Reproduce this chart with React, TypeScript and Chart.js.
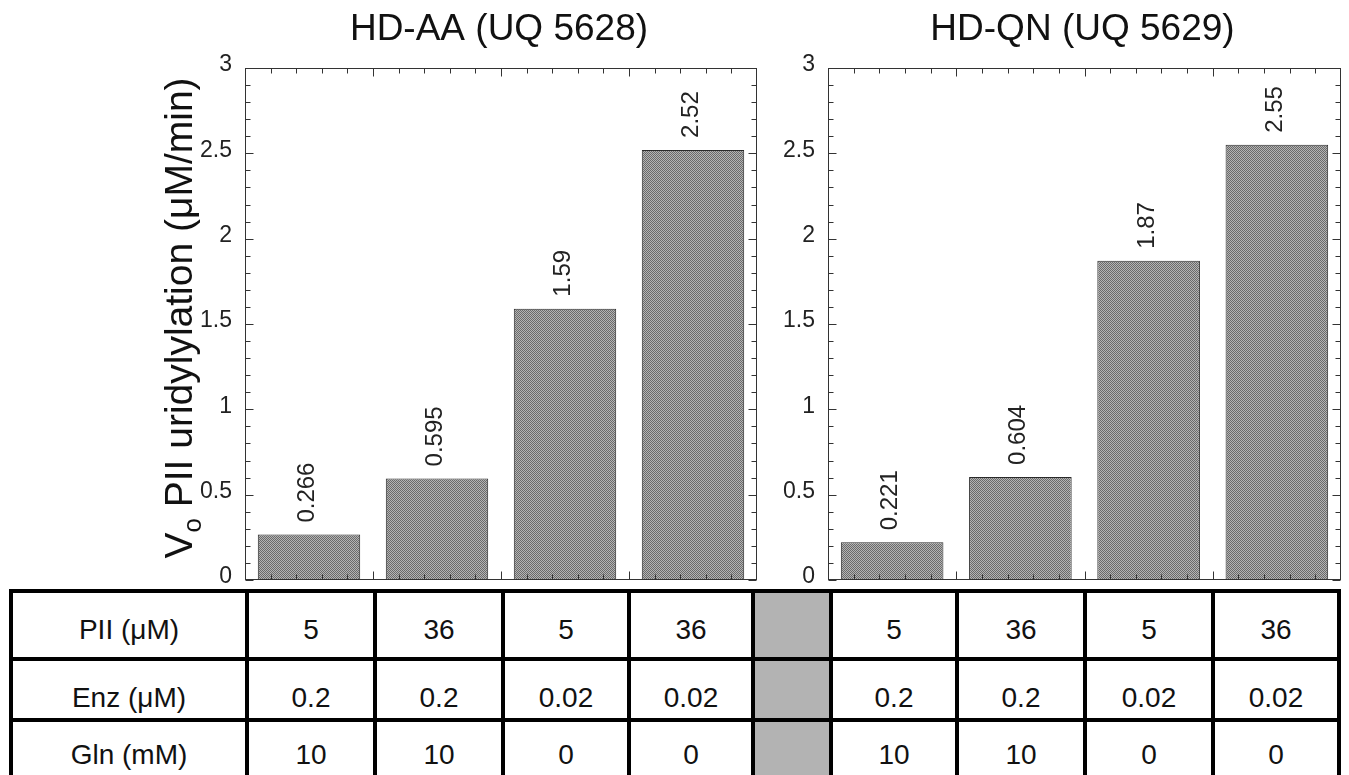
import React, { useEffect, useRef } from 'react';
import { Chart, registerables } from 'chart.js';

Chart.register(...registerables);

const FONT = '"Liberation Sans", Arial, Helvetica, sans-serif';

// ---- data ----
const conditions = ['PII 5 / Enz 0.2 / Gln 10', 'PII 36 / Enz 0.2 / Gln 10', 'PII 5 / Enz 0.02 / Gln 0', 'PII 36 / Enz 0.02 / Gln 0'];
const hdAAValues = [0.266, 0.595, 1.59, 2.52];
const hdQNValues = [0.221, 0.604, 1.87, 2.55];
const yTickValues = [0, 0.5, 1, 1.5, 2, 2.5, 3];
const panelTitles = ['HD-AA (UQ 5628)', 'HD-QN (UQ 5629)'];
const yTitleMain = 'V';
const yTitleSub = 'o';
const yTitleRest = ' PII uridylylation (\u03BCM/min)';
const rowLabels = ['PII (\u03BCM)', 'Enz (\u03BCM)', 'Gln (mM)'];
const piiValues = ['5', '36', '5', '36'];
const enzValues = ['0.2', '0.2', '0.02', '0.02'];
const glnValues = ['10', '10', '0', '0'];

// ---- layout constants ----
const PLOT_TOP = 68;
const PLOT_BOTTOM = 580;
const CANVAS_H = 640;

function makePattern(ctx: CanvasRenderingContext2D): CanvasPattern | string {
  const c = document.createElement('canvas');
  c.width = 2;
  c.height = 2;
  const g = c.getContext('2d');
  if (!g) return '#909090';
  g.fillStyle = '#b4b4b4';
  g.fillRect(0, 0, 2, 2);
  g.fillStyle = '#6a6a6a';
  g.fillRect(0, 0, 1, 1);
  g.fillRect(1, 1, 1, 1);
  return ctx.createPattern(c, 'repeat') || '#909090';
}

function makeDecor(title: string, showYTitle: boolean) {
  return {
    id: 'decor',
    afterDatasetsDraw(chart: any) {
      const { ctx, chartArea: a, scales } = chart;
      const xs = scales.x;
      const ys = scales.y;
      ctx.save();
      const line = (x1: number, y1: number, x2: number, y2: number) => {
        ctx.beginPath();
        ctx.moveTo(x1, y1);
        ctx.lineTo(x2, y2);
        ctx.stroke();
      };
      ctx.strokeStyle = '#333';
      ctx.lineWidth = 1;
      const L = Math.round(a.left) + 0.5;
      const R = Math.round(a.right) - 0.5;
      const T = Math.round(a.top) + 0.5;
      const B = Math.round(a.bottom) - 0.5;
      ctx.strokeRect(L, T, R - L, B - T);
      // y ticks (minor every 0.1, major every 0.5)
      for (let v = 0; v <= 30; v++) {
        const py = Math.round(ys.getPixelForValue(v / 10)) + 0.5;
        const len = v % 5 === 0 ? 8 : 5;
        line(L, py, L + len, py);
        line(R, py, R - len, py);
      }
      // x ticks
      const n = chart.data.labels.length;
      const w = (a.right - a.left) / n;
      for (let i = 0; i < n; i++) {
        const c0 = xs.getPixelForValue(i) - w / 2;
        for (let k = 0; k < 5; k++) {
          if (i === 0 && k === 0) continue;
          const px = Math.round(c0 + (k * w) / 5) + 0.5;
          const len = k === 0 ? 8 : 5;
          line(px, T, px, T + len);
          line(px, B, px, B - len);
        }
      }
      // value labels
      const meta = chart.getDatasetMeta(0);
      const vals = chart.data.datasets[0].data;
      ctx.fillStyle = '#222';
      ctx.font = `24px ${FONT}`;
      ctx.textAlign = 'left';
      ctx.textBaseline = 'alphabetic';
      meta.data.forEach((bar: any, i: number) => {
        ctx.save();
        ctx.translate(bar.x + 5, bar.y - 12);
        ctx.rotate(-Math.PI / 2);
        ctx.fillText(String(vals[i]), 0, 0);
        ctx.restore();
      });
      // panel title
      ctx.font = `37px ${FONT}`;
      ctx.textAlign = 'center';
      ctx.fillStyle = '#111';
      ctx.fillText(title, (a.left + a.right) / 2 - 2, 40);
      // y-axis title
      if (showYTitle) {
        ctx.save();
        ctx.translate(192, 318);
        ctx.rotate(-Math.PI / 2);
        ctx.textAlign = 'left';
        ctx.font = `39px ${FONT}`;
        const wV = ctx.measureText(yTitleMain).width;
        const wR = ctx.measureText(yTitleRest).width;
        ctx.font = `26px ${FONT}`;
        const wO = ctx.measureText(yTitleSub).width;
        const start = -(wV + wO + wR) / 2;
        ctx.font = `39px ${FONT}`;
        ctx.fillText(yTitleMain, start, 0);
        ctx.font = `26px ${FONT}`;
        ctx.fillText(yTitleSub, start + wV, 9);
        ctx.font = `39px ${FONT}`;
        ctx.fillText(yTitleRest, start + wV + wO, 0);
        ctx.restore();
      }
      ctx.restore();
    },
  };
}

function Panel(props: {
  left: number;
  width: number;
  values: number[];
  title: string;
  yWidth: number;
  padRight: number;
  showYTitle: boolean;
}) {
  const ref = useRef<HTMLCanvasElement>(null);
  useEffect(() => {
    const canvas = ref.current;
    if (!canvas) return;
    const ctx = canvas.getContext('2d') as CanvasRenderingContext2D;
    const pattern = makePattern(ctx);
    const chart = new Chart(canvas, {
      type: 'bar',
      data: {
        labels: conditions,
        datasets: [
          {
            data: props.values,
            backgroundColor: pattern as any,
            borderColor: '#2a2a2a',
            borderWidth: 1,
            barPercentage: 0.8,
            categoryPercentage: 1,
          },
        ],
      },
      options: {
        responsive: false,
        animation: false,
        layout: {
          padding: { top: PLOT_TOP, bottom: CANVAS_H - PLOT_BOTTOM, left: 0, right: props.padRight },
        },
        plugins: {
          legend: { display: false },
          tooltip: { enabled: false },
          title: { display: false },
        },
        scales: {
          x: { display: false, offset: true },
          y: {
            min: 0,
            max: 3,
            afterFit: (s: any) => {
              s.width = props.yWidth;
            },
            afterBuildTicks: (s: any) => {
              s.ticks = yTickValues.map((v) => ({ value: v }));
            },
            grid: { display: false, drawTicks: false },
            border: { display: false },
            ticks: {
              font: { family: FONT, size: 23 },
              color: '#222',
              padding: 13,
              labelOffset: -3,
              callback: (v: any) => String(v),
            },
          },
        },
      } as any,
      plugins: [makeDecor(props.title, props.showYTitle)],
    });
    return () => chart.destroy();
  }, []);
  return (
    <canvas
      ref={ref}
      width={props.width}
      height={CANVAS_H}
      style={{ position: 'absolute', left: props.left, top: 0, width: props.width, height: CANVAS_H }}
    />
  );
}

const colX = [11, 247, 375, 503, 629, 753, 831, 957, 1085, 1213, 1339];
const lineY = [591, 659, 720];
const textY = [630, 698, 755];
const LW = 4;

function ConditionTable() {
  const rows = [piiValues, enzValues, glnValues];
  const els: React.ReactNode[] = [];
  els.push(
    <div
      key="bg"
      style={{ position: 'absolute', left: 0, top: lineY[0] - 3, width: 1349, height: 200, background: '#fff' }}
    />
  );
  els.push(
    <div
      key="gray"
      style={{ position: 'absolute', left: colX[5], top: lineY[0], width: colX[6] - colX[5], height: 220, background: '#b3b3b3' }}
    />
  );
  rows.forEach((vals, r) => {
    const cells = [rowLabels[r], ...vals, '', ...vals];
    cells.forEach((txt, c) => {
      if (!txt) return;
      els.push(
        <div
          key={`t${r}-${c}`}
          style={{
            position: 'absolute',
            left: colX[c],
            width: colX[c + 1] - colX[c],
            top: textY[r] - 20,
            height: 40,
            lineHeight: '40px',
            textAlign: 'center',
            fontFamily: FONT,
            fontSize: 28,
            color: '#111',
          }}
        >
          {txt}
        </div>
      );
    });
  });
  lineY.forEach((y, i) => {
    els.push(
      <div
        key={`h${i}`}
        style={{ position: 'absolute', left: colX[0] - LW / 2, top: y - LW / 2, width: colX[colX.length - 1] - colX[0] + LW, height: LW, background: '#000' }}
      />
    );
  });
  colX.forEach((x, i) => {
    els.push(
      <div
        key={`v${i}`}
        style={{ position: 'absolute', left: x - LW / 2, top: lineY[0] - LW / 2, width: LW, height: 220, background: '#000' }}
      />
    );
  });
  return <>{els}</>;
}

export default function App() {
  return (
    <div
      style={{
        position: 'fixed',
        left: 0,
        top: 0,
        width: 1349,
        height: 775,
        overflow: 'hidden',
        background: '#fff',
      }}
    >
      <Panel left={0} width={780} values={hdAAValues} title={panelTitles[0]} yWidth={245} padRight={23} showYTitle={true} />
      <Panel left={780} width={569} values={hdQNValues} title={panelTitles[1]} yWidth={48} padRight={8} showYTitle={false} />
      <ConditionTable />
    </div>
  );
}
